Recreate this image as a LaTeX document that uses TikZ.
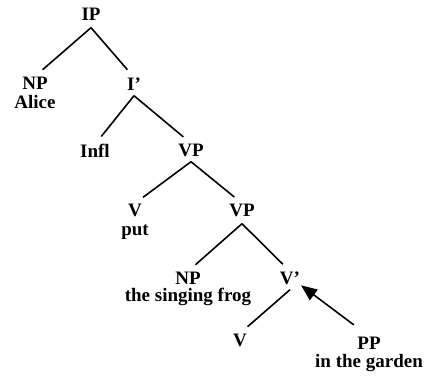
\documentclass[tikz,border=0pt]{standalone}
\usepackage{fontspec}
\setmainfont{Liberation Serif}
\usetikzlibrary{arrows.meta, positioning}

\begin{document}
\begin{tikzpicture}[
    x=1pt, y=-1pt,
    node distance=6pt,
    cat/.style={inner sep=0pt, text height=13pt, text depth=0pt, font=\fontsize{19}{21}\selectfont\bfseries},
    word/.style={inner sep=0pt, text height=13pt, text depth=4pt, font=\fontsize{19}{21}\selectfont\bfseries},
    edge/.style={line width=1.6pt, shorten >=10pt},
    arr/.style={-{Triangle[length=16pt,width=13pt]}, line width=1.6pt, shorten <=19pt, shorten >=1pt},
]
\useasboundingbox (0,0) rectangle (428,375);

\node[cat] (ip) at (91,14) {IP};
\node[cat] (np1) at (35,83) {NP};
\node[word, below=of np1] (alice) {Alice};
\node[cat] (ibar) at (134,84) {I'};
\node[cat] (infl) at (95,151) {Infl};
\node[cat] (vp1) at (191,150) {VP};
\node[cat] (v1) at (135,210) {V};
\node[word, below=of v1] (put) {put};
\node[cat] (vp2) at (242,210) {VP};
\node[cat] (np2) at (188,278) {NP};
\node[word, below=4pt of np2] (frog) {the singing frog};
\node[cat] (vbar) at (290,278) {V'};
\node[cat] (v2) at (240,340) {V};
\node[cat] (pp) at (369,343) {PP};
\node[word, below=5pt of pp] (garden) {in the garden};

% branches
\draw[edge] ([yshift=-7pt]ip.south) -- (np1.north);
\draw[edge] ([yshift=-7pt]ip.south) -- (ibar.north);
\draw[edge] ([yshift=-5pt]ibar.south) -- (infl.north);
\draw[edge] ([yshift=-5pt]ibar.south) -- (vp1.north);
\draw[edge] ([yshift=-5pt]vp1.south) -- (v1.north);
\draw[edge] ([yshift=-5pt]vp1.south) -- (vp2.north);
\draw[edge] ([yshift=-7pt]vp2.south) -- (np2.north);
\draw[edge] ([yshift=-7pt]vp2.south) -- (vbar.north);
\draw[edge] ([yshift=-5pt]vbar.south) -- (v2.north);

% adjunction arrow
\draw[arr] (pp.north) -- (vbar.south east);

\end{tikzpicture}
\end{document}
